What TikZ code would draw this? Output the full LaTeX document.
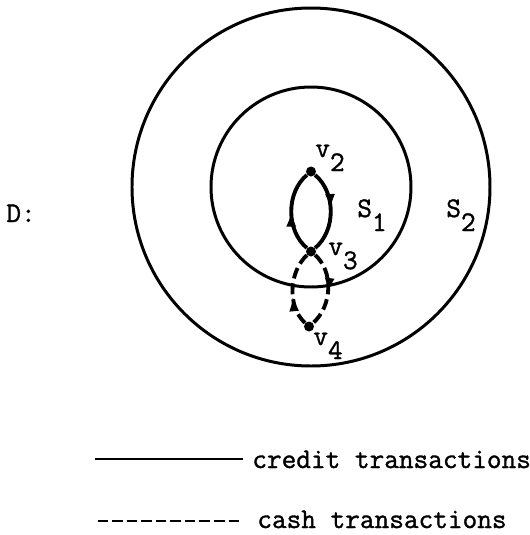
\documentclass[tikz,border=0pt]{standalone}
\usepackage{fontspec}
\newfontfamily\typefont{Latin Modern Mono}[FakeBold=1.2]
\usetikzlibrary{arrows.meta, decorations.markings, calc}

\begin{document}
\begin{tikzpicture}[
    region/.style={circle, draw, line width=1.7pt, inner sep=0pt},
    vertex/.style={circle, fill, inner sep=0pt, minimum size=0.2cm},
    txt/.style={font=\fontsize{16.2}{19}\selectfont\typefont,
                inner sep=0pt, anchor=base west},
    credit/.style={line width=2.2pt},
    cash/.style={line width=2.2pt, dash pattern=on 0.22cm off 0.1cm},
    midarrow/.style={postaction={decorate}, decoration={markings,
        mark=at position #1 with {\arrow{Latex[length=0.3cm, width=0.2cm]}}}}
  ]
  \useasboundingbox (-6.22,-6.96) rectangle (4.38,3.74);

  % Regions
  \node[region, minimum size=7.16cm] (s2) at (0,0) {};
  \node[region, minimum size=4.0cm] (s1) at (0,0) {};
  \node[txt] (dlbl) at (-6.10,-0.70) {D:};
  \node[txt] (s1lbl) at (0.92,-0.60) {S\raisebox{-8pt}{1}};
  \node[txt] (s2lbl) at (2.70,-0.60) {S\raisebox{-8pt}{2}};

  % Vertices
  \node[vertex] (v2) at (0,0.31) {};
  \node[vertex] (v3) at (0,-1.29) {};
  \node[vertex] (v4) at (-0.04,-2.79) {};
  \node[txt] (v2lbl) at (0.08,0.60) {v\raisebox{-8pt}{2}};
  \node[txt] (v3lbl) at (0.34,-1.36) {v\raisebox{-8pt}{3}};
  \node[txt] (v4lbl) at (0.04,-3.16) {v\raisebox{-8pt}{4}};

  % Transactions
  \draw[credit, midarrow=0.5] (v3) .. controls ($(v3)+(-0.5,0.42)$)
    and ($(v2)+(-0.5,-0.42)$) .. (v2);
  \draw[credit, midarrow=0.47] (v2) .. controls ($(v2)+(0.5,-0.42)$)
    and ($(v3)+(0.5,0.42)$) .. (v3);
  \draw[cash, midarrow=0.4] (v4) .. controls ($(v4)+(-0.44,0.4)$)
    and ($(v3)+(-0.44,-0.4)$) .. (v3);
  \draw[cash, midarrow=0.55] (v3) .. controls ($(v3)+(0.46,-0.4)$)
    and ($(v4)+(0.46,0.4)$) .. (v4);

  % Legend
  \coordinate (creditA) at (-4.32,-5.44);
  \coordinate (creditB) at (-1.36,-5.44);
  \coordinate (cashA) at (-4.26,-6.68);
  \coordinate (cashB) at (-1.42,-6.68);
  \draw[line width=0.8pt] (creditA) -- (creditB);
  \draw[line width=1.5pt, dash pattern=on 0.21cm off 0.08cm] (cashA) -- (cashB);
  \node[txt] (creditlbl) at (-1.18,-5.62) {credit transactions};
  \node[txt] (cashlbl) at (-1.08,-6.82) {cash transactions};
\end{tikzpicture}
\end{document}
